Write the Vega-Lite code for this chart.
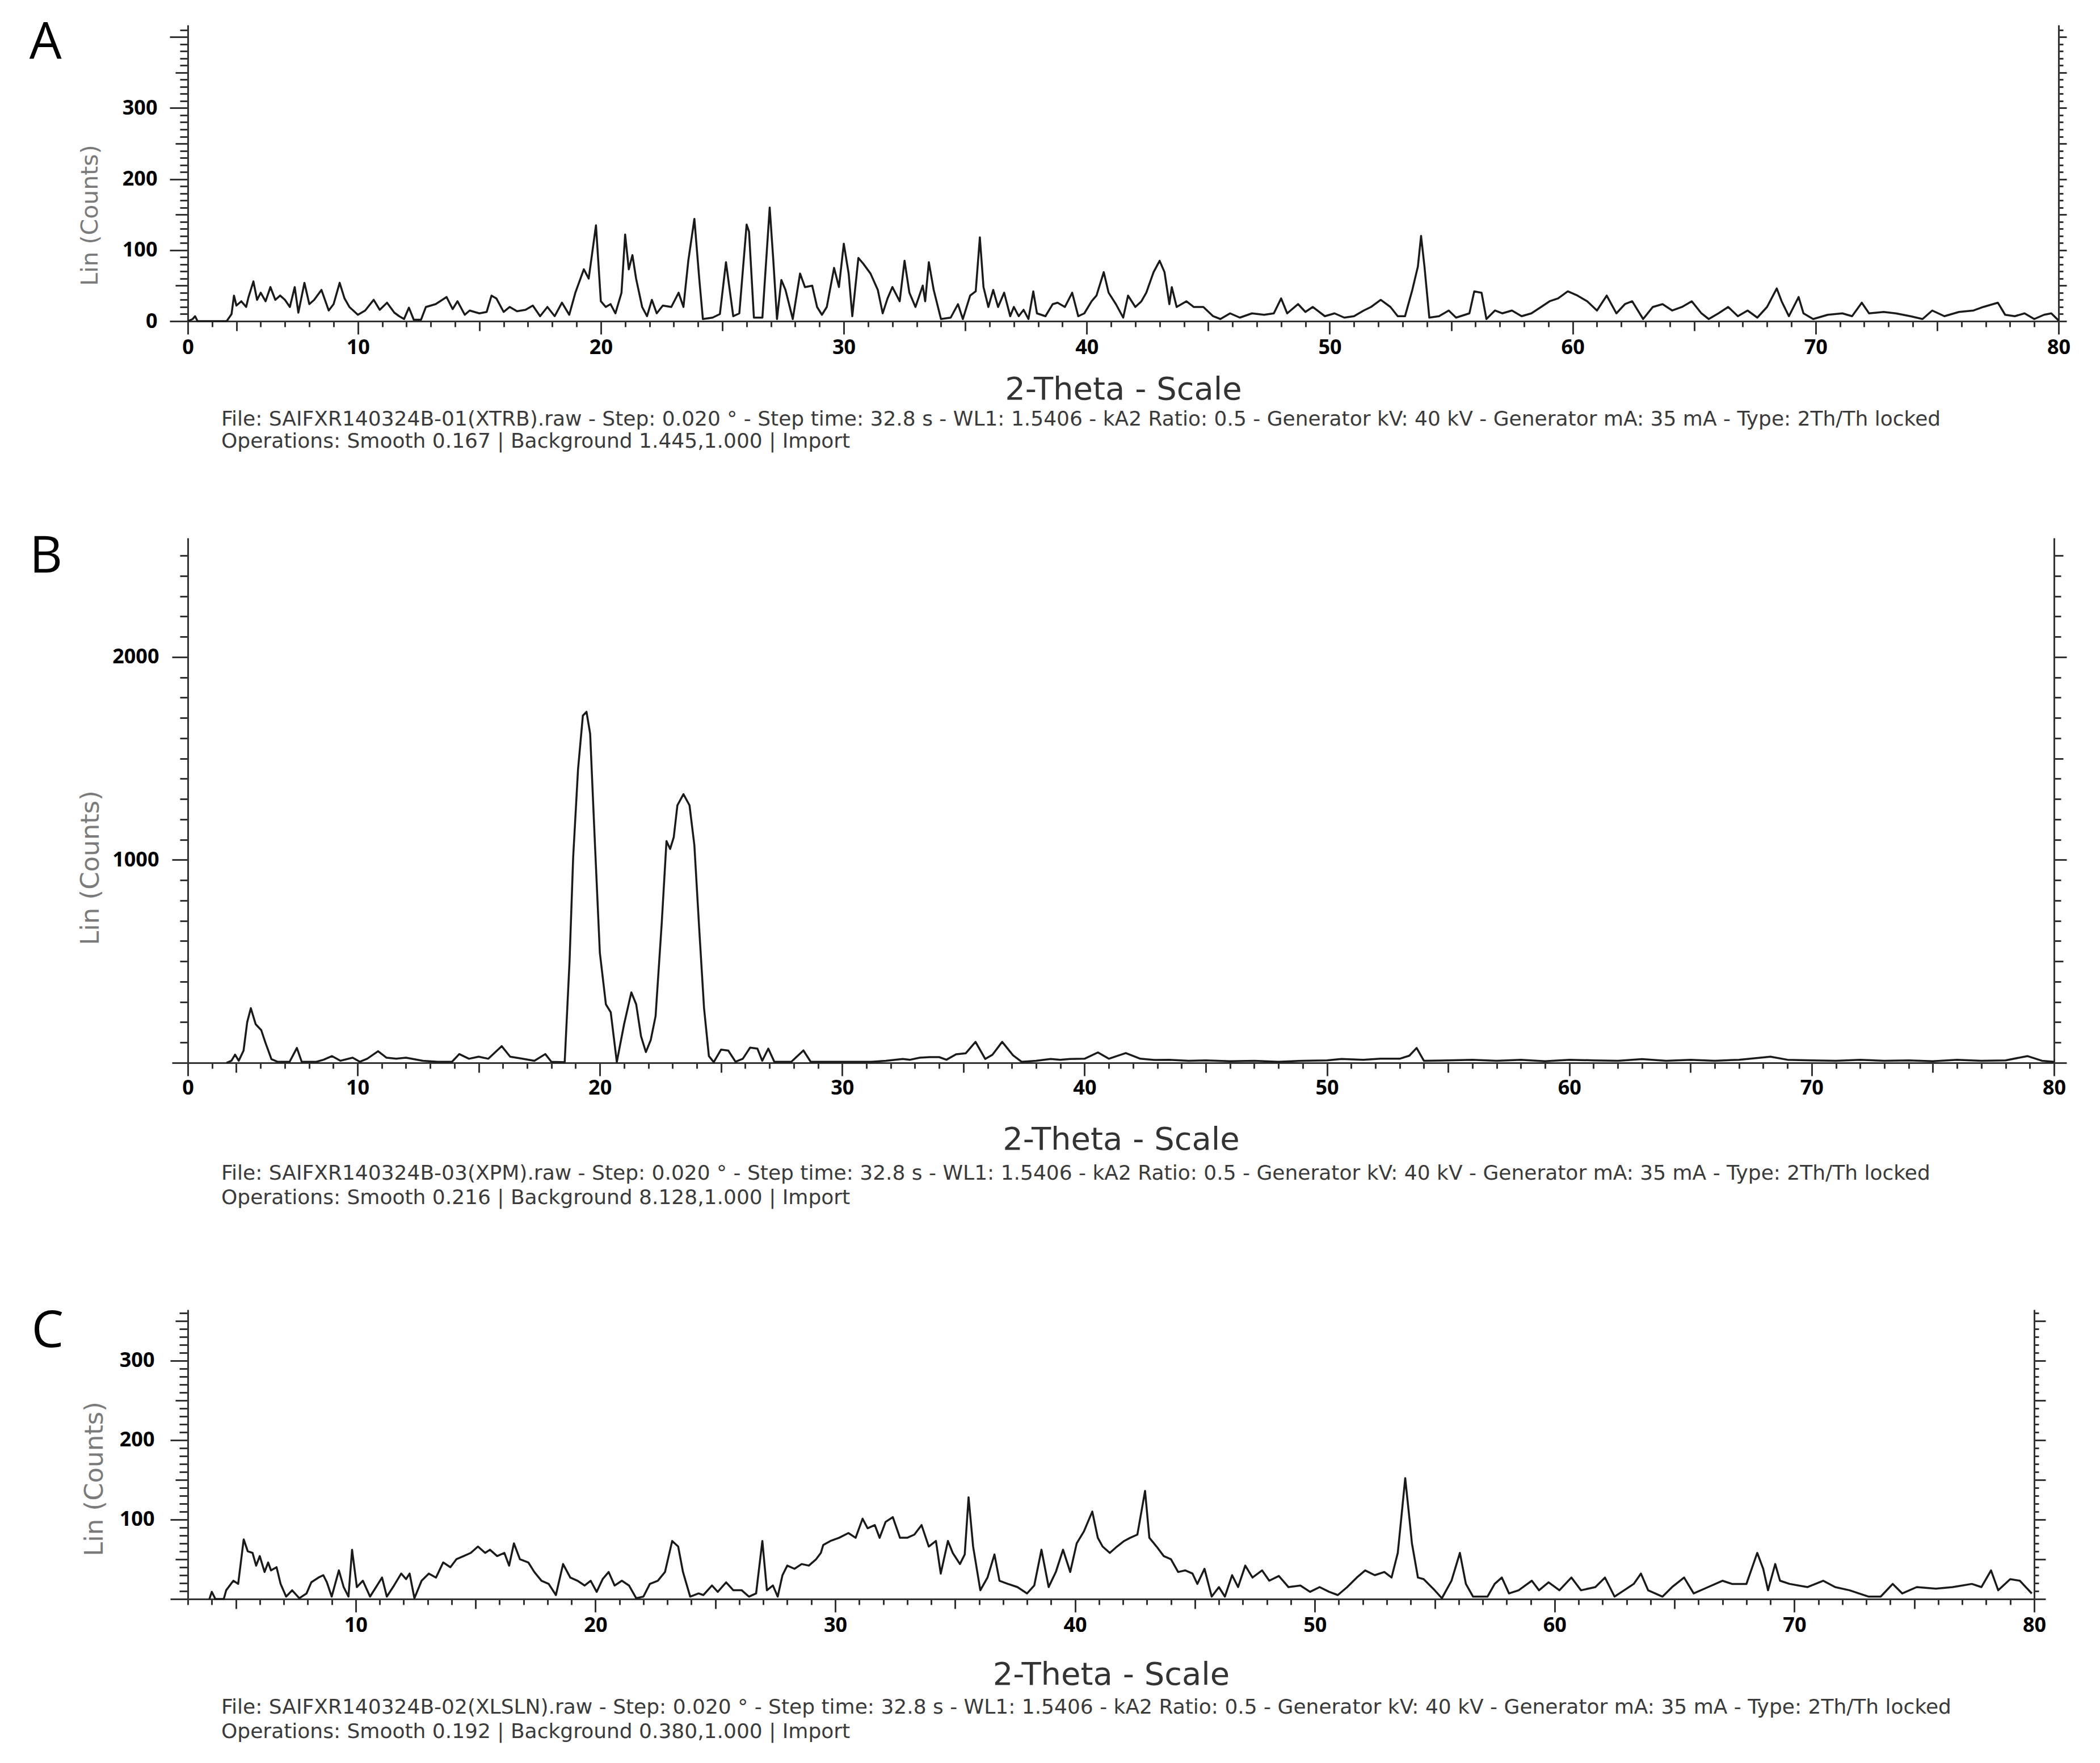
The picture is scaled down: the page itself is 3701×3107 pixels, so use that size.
{
"$schema": "https://vega.github.io/schema/vega-lite/v6.json",
"background": "white",
"padding": {"left": 51, "top": 30, "right": 5, "bottom": 5},
"config": {"view": {"stroke": null}},
"datasets": {
"A": [
{"t":3.0,"c":0},{"t":3.2,"c":3},{"t":3.3,"c":7},{"t":3.4,"c":0},{"t":4.6,"c":0},{"t":4.8,"c":10},{"t":4.9,"c":36},{"t":5.0,"c":22},{"t":5.2,"c":28},{"t":5.4,"c":20},{"t":5.5,"c":34},{"t":5.7,"c":56},{"t":5.85,"c":30},{"t":6.0,"c":40},{"t":6.2,"c":28},{"t":6.4,"c":48},{"t":6.6,"c":30},{"t":6.8,"c":36},{"t":7.0,"c":30},{"t":7.2,"c":20},{"t":7.4,"c":48},{"t":7.55,"c":12},{"t":7.8,"c":54},{"t":8.0,"c":24},{"t":8.2,"c":30},{"t":8.5,"c":44},{"t":8.8,"c":15},{"t":9.0,"c":24},{"t":9.25,"c":54},{"t":9.45,"c":32},{"t":9.65,"c":20},{"t":10.0,"c":9},{"t":10.3,"c":15},{"t":10.65,"c":30},{"t":10.9,"c":16},{"t":11.2,"c":26},{"t":11.5,"c":12},{"t":11.7,"c":7},{"t":11.9,"c":3},{"t":12.1,"c":19},{"t":12.3,"c":2},{"t":12.6,"c":2},{"t":12.8,"c":20},{"t":13.2,"c":24},{"t":13.65,"c":34},{"t":13.9,"c":17},{"t":14.1,"c":28},{"t":14.4,"c":9},{"t":14.6,"c":15},{"t":15.0,"c":11},{"t":15.3,"c":13},{"t":15.5,"c":36},{"t":15.7,"c":32},{"t":16.0,"c":13},{"t":16.25,"c":20},{"t":16.55,"c":14},{"t":16.9,"c":16},{"t":17.2,"c":22},{"t":17.5,"c":7},{"t":17.8,"c":20},{"t":18.1,"c":7},{"t":18.4,"c":26},{"t":18.7,"c":9},{"t":18.95,"c":40},{"t":19.3,"c":73},{"t":19.5,"c":60},{"t":19.8,"c":135},{"t":20.0,"c":28},{"t":20.2,"c":20},{"t":20.4,"c":24},{"t":20.6,"c":11},{"t":20.85,"c":40},{"t":21.0,"c":122},{"t":21.15,"c":73},{"t":21.3,"c":93},{"t":21.45,"c":60},{"t":21.7,"c":20},{"t":21.9,"c":7},{"t":22.1,"c":30},{"t":22.3,"c":11},{"t":22.55,"c":22},{"t":22.9,"c":20},{"t":23.2,"c":40},{"t":23.4,"c":20},{"t":23.6,"c":85},{"t":23.85,"c":144},{"t":24.05,"c":60},{"t":24.2,"c":3},{"t":24.6,"c":5},{"t":24.9,"c":10},{"t":25.15,"c":83},{"t":25.45,"c":7},{"t":25.7,"c":11},{"t":26.0,"c":136},{"t":26.1,"c":126},{"t":26.3,"c":5},{"t":26.65,"c":5},{"t":26.95,"c":160},{"t":27.1,"c":85},{"t":27.25,"c":3},{"t":27.43,"c":58},{"t":27.6,"c":44},{"t":27.9,"c":3},{"t":28.2,"c":67},{"t":28.4,"c":48},{"t":28.7,"c":50},{"t":28.9,"c":20},{"t":29.1,"c":9},{"t":29.3,"c":20},{"t":29.6,"c":75},{"t":29.8,"c":48},{"t":30.0,"c":109},{"t":30.2,"c":67},{"t":30.35,"c":7},{"t":30.6,"c":89},{"t":30.8,"c":81},{"t":31.1,"c":67},{"t":31.4,"c":44},{"t":31.6,"c":11},{"t":31.8,"c":32},{"t":32.0,"c":48},{"t":32.3,"c":28},{"t":32.5,"c":85},{"t":32.7,"c":40},{"t":32.95,"c":20},{"t":33.25,"c":50},{"t":33.35,"c":28},{"t":33.5,"c":83},{"t":33.7,"c":44},{"t":34.0,"c":3},{"t":34.4,"c":5},{"t":34.7,"c":24},{"t":34.9,"c":3},{"t":35.2,"c":36},{"t":35.43,"c":42},{"t":35.6,"c":118},{"t":35.75,"c":48},{"t":35.95,"c":20},{"t":36.15,"c":44},{"t":36.35,"c":20},{"t":36.6,"c":40},{"t":36.85,"c":7},{"t":37.0,"c":20},{"t":37.2,"c":7},{"t":37.4,"c":16},{"t":37.6,"c":3},{"t":37.8,"c":42},{"t":37.95,"c":11},{"t":38.3,"c":7},{"t":38.6,"c":24},{"t":38.8,"c":26},{"t":39.1,"c":20},{"t":39.4,"c":40},{"t":39.65,"c":7},{"t":39.9,"c":11},{"t":40.2,"c":28},{"t":40.4,"c":36},{"t":40.7,"c":69},{"t":40.9,"c":40},{"t":41.2,"c":24},{"t":41.5,"c":5},{"t":41.7,"c":36},{"t":42.0,"c":20},{"t":42.25,"c":28},{"t":42.45,"c":40},{"t":42.75,"c":69},{"t":43.0,"c":85},{"t":43.2,"c":69},{"t":43.4,"c":24},{"t":43.5,"c":48},{"t":43.7,"c":20},{"t":44.1,"c":28},{"t":44.4,"c":20},{"t":44.8,"c":20},{"t":45.2,"c":7},{"t":45.5,"c":3},{"t":45.9,"c":11},{"t":46.3,"c":5},{"t":46.8,"c":11},{"t":47.3,"c":9},{"t":47.7,"c":11},{"t":48.0,"c":32},{"t":48.25,"c":11},{"t":48.7,"c":24},{"t":49.0,"c":13},{"t":49.3,"c":20},{"t":49.8,"c":7},{"t":50.2,"c":11},{"t":50.6,"c":5},{"t":51.0,"c":7},{"t":51.4,"c":15},{"t":51.7,"c":20},{"t":52.1,"c":30},{"t":52.5,"c":20},{"t":52.8,"c":7},{"t":53.1,"c":7},{"t":53.4,"c":44},{"t":53.63,"c":77},{"t":53.76,"c":120},{"t":53.9,"c":77},{"t":54.1,"c":5},{"t":54.5,"c":7},{"t":54.9,"c":15},{"t":55.2,"c":5},{"t":55.75,"c":11},{"t":55.95,"c":42},{"t":56.25,"c":40},{"t":56.45,"c":3},{"t":56.8,"c":15},{"t":57.1,"c":11},{"t":57.5,"c":15},{"t":57.9,"c":7},{"t":58.3,"c":11},{"t":58.7,"c":20},{"t":59.05,"c":28},{"t":59.4,"c":32},{"t":59.8,"c":42},{"t":60.2,"c":36},{"t":60.6,"c":28},{"t":61.0,"c":15},{"t":61.4,"c":36},{"t":61.8,"c":11},{"t":62.15,"c":24},{"t":62.45,"c":28},{"t":62.9,"c":3},{"t":63.3,"c":20},{"t":63.7,"c":24},{"t":64.1,"c":15},{"t":64.5,"c":20},{"t":64.9,"c":28},{"t":65.3,"c":11},{"t":65.6,"c":3},{"t":66.0,"c":11},{"t":66.4,"c":20},{"t":66.8,"c":7},{"t":67.2,"c":15},{"t":67.6,"c":5},{"t":68.0,"c":20},{"t":68.4,"c":46},{"t":68.6,"c":28},{"t":68.9,"c":7},{"t":69.3,"c":34},{"t":69.5,"c":11},{"t":69.9,"c":3},{"t":70.5,"c":9},{"t":71.1,"c":11},{"t":71.5,"c":7},{"t":71.9,"c":26},{"t":72.2,"c":11},{"t":72.8,"c":13},{"t":73.3,"c":11},{"t":73.9,"c":7},{"t":74.4,"c":3},{"t":74.8,"c":15},{"t":75.3,"c":7},{"t":75.9,"c":13},{"t":76.5,"c":15},{"t":76.9,"c":20},{"t":77.5,"c":26},{"t":77.8,"c":9},{"t":78.2,"c":7},{"t":78.6,"c":11},{"t":79.0,"c":3},{"t":79.4,"c":9},{"t":79.7,"c":11},{"t":80.0,"c":1}
],
"B": [
{"t":4.6,"c":0},{"t":4.8,"c":10},{"t":4.95,"c":40},{"t":5.1,"c":10},{"t":5.3,"c":60},{"t":5.45,"c":200},{"t":5.6,"c":269},{"t":5.8,"c":190},{"t":6.03,"c":161},{"t":6.2,"c":100},{"t":6.45,"c":18},{"t":6.7,"c":5},{"t":7.2,"c":5},{"t":7.5,"c":73},{"t":7.7,"c":5},{"t":8.3,"c":5},{"t":8.6,"c":15},{"t":8.95,"c":33},{"t":9.3,"c":10},{"t":9.8,"c":25},{"t":10.1,"c":5},{"t":10.4,"c":20},{"t":10.85,"c":57},{"t":11.2,"c":25},{"t":11.6,"c":20},{"t":12.0,"c":25},{"t":12.7,"c":10},{"t":13.3,"c":5},{"t":13.9,"c":5},{"t":14.2,"c":43},{"t":14.6,"c":20},{"t":15.0,"c":30},{"t":15.4,"c":20},{"t":15.95,"c":82},{"t":16.3,"c":30},{"t":16.8,"c":20},{"t":17.3,"c":10},{"t":17.75,"c":43},{"t":18.0,"c":5},{"t":18.55,"c":3},{"t":18.75,"c":500},{"t":18.9,"c":1014},{"t":19.1,"c":1446},{"t":19.3,"c":1711},{"t":19.45,"c":1730},{"t":19.6,"c":1622},{"t":19.8,"c":1073},{"t":20.0,"c":543},{"t":20.25,"c":288},{"t":20.45,"c":249},{"t":20.7,"c":4},{"t":21.0,"c":190},{"t":21.3,"c":347},{"t":21.5,"c":288},{"t":21.7,"c":131},{"t":21.9,"c":53},{"t":22.1,"c":112},{"t":22.3,"c":230},{"t":22.55,"c":681},{"t":22.75,"c":1093},{"t":22.9,"c":1054},{"t":23.05,"c":1112},{"t":23.2,"c":1269},{"t":23.45,"c":1324},{"t":23.7,"c":1269},{"t":23.9,"c":1073},{"t":24.1,"c":661},{"t":24.3,"c":269},{"t":24.5,"c":33},{"t":24.7,"c":3},{"t":25.0,"c":65},{"t":25.3,"c":60},{"t":25.6,"c":5},{"t":25.9,"c":20},{"t":26.2,"c":75},{"t":26.5,"c":70},{"t":26.7,"c":10},{"t":26.95,"c":70},{"t":27.2,"c":5},{"t":27.9,"c":5},{"t":28.4,"c":61},{"t":28.7,"c":5},{"t":29.5,"c":5},{"t":30.5,"c":5},{"t":31.2,"c":5},{"t":31.8,"c":10},{"t":32.5,"c":19},{"t":32.8,"c":15},{"t":33.2,"c":25},{"t":33.6,"c":28},{"t":34.0,"c":28},{"t":34.3,"c":15},{"t":34.7,"c":42},{"t":35.1,"c":47},{"t":35.5,"c":103},{"t":35.9,"c":19},{"t":36.2,"c":40},{"t":36.6,"c":103},{"t":37.05,"c":37},{"t":37.4,"c":5},{"t":38.0,"c":10},{"t":38.6,"c":19},{"t":39.0,"c":15},{"t":39.4,"c":19},{"t":40.0,"c":20},{"t":40.55,"c":51},{"t":41.0,"c":20},{"t":41.7,"c":48},{"t":42.3,"c":20},{"t":42.9,"c":14},{"t":43.5,"c":15},{"t":44.3,"c":10},{"t":45.0,"c":12},{"t":46.0,"c":8},{"t":47.0,"c":10},{"t":48.0,"c":5},{"t":49.0,"c":10},{"t":50.0,"c":12},{"t":50.6,"c":19},{"t":51.5,"c":15},{"t":52.2,"c":20},{"t":53.0,"c":20},{"t":53.4,"c":35},{"t":53.7,"c":73},{"t":54.0,"c":10},{"t":55.0,"c":12},{"t":56.0,"c":15},{"t":57.0,"c":10},{"t":58.0,"c":15},{"t":59.0,"c":8},{"t":60.0,"c":15},{"t":61.0,"c":12},{"t":62.0,"c":10},{"t":63.0,"c":18},{"t":64.0,"c":10},{"t":65.0,"c":15},{"t":66.0,"c":10},{"t":67.0,"c":15},{"t":68.3,"c":30},{"t":69.0,"c":15},{"t":70.0,"c":12},{"t":71.0,"c":10},{"t":72.0,"c":15},{"t":73.0,"c":10},{"t":74.0,"c":12},{"t":75.0,"c":8},{"t":76.0,"c":15},{"t":77.0,"c":10},{"t":78.0,"c":12},{"t":78.9,"c":33},{"t":79.5,"c":10},{"t":80.0,"c":5}
],
"C": [
{"t":3.9,"c":0},{"t":4.0,"c":9},{"t":4.15,"c":0},{"t":4.5,"c":0},{"t":4.6,"c":11},{"t":4.9,"c":23},{"t":5.1,"c":19},{"t":5.33,"c":75},{"t":5.5,"c":60},{"t":5.7,"c":58},{"t":5.85,"c":42},{"t":6.0,"c":54},{"t":6.2,"c":34},{"t":6.35,"c":46},{"t":6.47,"c":36},{"t":6.7,"c":40},{"t":6.87,"c":19},{"t":7.1,"c":3},{"t":7.35,"c":11},{"t":7.65,"c":1},{"t":7.95,"c":7},{"t":8.15,"c":21},{"t":8.45,"c":27},{"t":8.65,"c":30},{"t":8.8,"c":21},{"t":9.0,"c":3},{"t":9.3,"c":36},{"t":9.5,"c":15},{"t":9.7,"c":3},{"t":9.85,"c":62},{"t":10.05,"c":15},{"t":10.3,"c":23},{"t":10.6,"c":3},{"t":10.85,"c":15},{"t":11.1,"c":27},{"t":11.3,"c":3},{"t":11.6,"c":17},{"t":11.9,"c":32},{"t":12.1,"c":25},{"t":12.25,"c":32},{"t":12.45,"c":1},{"t":12.75,"c":23},{"t":13.05,"c":32},{"t":13.35,"c":27},{"t":13.65,"c":46},{"t":13.95,"c":40},{"t":14.2,"c":50},{"t":14.5,"c":54},{"t":14.8,"c":58},{"t":15.1,"c":66},{"t":15.4,"c":58},{"t":15.6,"c":62},{"t":15.9,"c":54},{"t":16.2,"c":58},{"t":16.4,"c":42},{"t":16.6,"c":70},{"t":16.85,"c":50},{"t":17.2,"c":46},{"t":17.45,"c":34},{"t":17.75,"c":23},{"t":18.05,"c":19},{"t":18.35,"c":5},{"t":18.65,"c":44},{"t":18.95,"c":27},{"t":19.25,"c":23},{"t":19.55,"c":17},{"t":19.8,"c":23},{"t":20.05,"c":9},{"t":20.3,"c":25},{"t":20.55,"c":34},{"t":20.8,"c":17},{"t":21.1,"c":23},{"t":21.4,"c":17},{"t":21.7,"c":1},{"t":22.0,"c":3},{"t":22.27,"c":19},{"t":22.6,"c":23},{"t":22.9,"c":34},{"t":23.2,"c":73},{"t":23.45,"c":66},{"t":23.65,"c":34},{"t":23.95,"c":3},{"t":24.3,"c":7},{"t":24.5,"c":5},{"t":24.86,"c":17},{"t":25.1,"c":9},{"t":25.45,"c":21},{"t":25.75,"c":11},{"t":26.1,"c":11},{"t":26.4,"c":3},{"t":26.7,"c":7},{"t":26.96,"c":73},{"t":27.15,"c":11},{"t":27.4,"c":17},{"t":27.6,"c":3},{"t":27.8,"c":30},{"t":28.0,"c":42},{"t":28.3,"c":38},{"t":28.6,"c":44},{"t":28.9,"c":42},{"t":29.2,"c":50},{"t":29.4,"c":58},{"t":29.5,"c":68},{"t":29.8,"c":73},{"t":30.16,"c":77},{"t":30.55,"c":83},{"t":30.85,"c":77},{"t":31.14,"c":101},{"t":31.35,"c":89},{"t":31.65,"c":93},{"t":31.85,"c":77},{"t":32.1,"c":97},{"t":32.4,"c":103},{"t":32.7,"c":77},{"t":33.0,"c":77},{"t":33.3,"c":81},{"t":33.6,"c":93},{"t":33.9,"c":66},{"t":34.2,"c":73},{"t":34.4,"c":32},{"t":34.7,"c":73},{"t":34.9,"c":58},{"t":35.2,"c":44},{"t":35.4,"c":56},{"t":35.56,"c":128},{"t":35.75,"c":66},{"t":36.05,"c":11},{"t":36.35,"c":27},{"t":36.64,"c":56},{"t":36.85,"c":23},{"t":37.2,"c":19},{"t":37.6,"c":15},{"t":38.0,"c":7},{"t":38.3,"c":17},{"t":38.6,"c":62},{"t":38.9,"c":15},{"t":39.2,"c":34},{"t":39.5,"c":62},{"t":39.8,"c":34},{"t":40.07,"c":70},{"t":40.37,"c":85},{"t":40.72,"c":110},{"t":40.95,"c":77},{"t":41.15,"c":66},{"t":41.45,"c":58},{"t":41.75,"c":66},{"t":42.05,"c":73},{"t":42.3,"c":77},{"t":42.6,"c":81},{"t":42.92,"c":136},{"t":43.1,"c":77},{"t":43.4,"c":66},{"t":43.7,"c":54},{"t":44.0,"c":50},{"t":44.3,"c":34},{"t":44.6,"c":36},{"t":44.9,"c":32},{"t":45.1,"c":19},{"t":45.4,"c":38},{"t":45.7,"c":3},{"t":46.0,"c":15},{"t":46.25,"c":3},{"t":46.55,"c":30},{"t":46.8,"c":15},{"t":47.1,"c":42},{"t":47.4,"c":27},{"t":47.8,"c":36},{"t":48.1,"c":23},{"t":48.5,"c":29},{"t":48.9,"c":15},{"t":49.4,"c":17},{"t":49.8,"c":9},{"t":50.2,"c":15},{"t":50.6,"c":9},{"t":50.96,"c":5},{"t":51.35,"c":15},{"t":51.75,"c":27},{"t":52.1,"c":36},{"t":52.5,"c":30},{"t":52.9,"c":34},{"t":53.2,"c":27},{"t":53.46,"c":58},{"t":53.6,"c":100},{"t":53.77,"c":152},{"t":53.95,"c":100},{"t":54.05,"c":70},{"t":54.3,"c":27},{"t":54.54,"c":25},{"t":55.0,"c":11},{"t":55.3,"c":1},{"t":55.7,"c":23},{"t":56.05,"c":58},{"t":56.3,"c":19},{"t":56.6,"c":3},{"t":57.2,"c":3},{"t":57.5,"c":19},{"t":57.8,"c":27},{"t":58.1,"c":7},{"t":58.5,"c":11},{"t":59.05,"c":23},{"t":59.35,"c":11},{"t":59.75,"c":21},{"t":60.2,"c":11},{"t":60.7,"c":27},{"t":61.1,"c":11},{"t":61.7,"c":15},{"t":62.1,"c":27},{"t":62.5,"c":3},{"t":62.9,"c":11},{"t":63.3,"c":19},{"t":63.6,"c":32},{"t":63.9,"c":11},{"t":64.5,"c":3},{"t":64.9,"c":15},{"t":65.4,"c":27},{"t":65.8,"c":7},{"t":66.4,"c":15},{"t":67.0,"c":23},{"t":67.4,"c":19},{"t":68.0,"c":19},{"t":68.45,"c":58},{"t":68.7,"c":38},{"t":68.9,"c":11},{"t":69.2,"c":44},{"t":69.4,"c":23},{"t":69.8,"c":19},{"t":70.55,"c":15},{"t":71.2,"c":23},{"t":71.7,"c":15},{"t":72.3,"c":11},{"t":73.1,"c":3},{"t":73.6,"c":3},{"t":74.1,"c":19},{"t":74.5,"c":7},{"t":75.1,"c":15},{"t":75.9,"c":13},{"t":76.6,"c":15},{"t":77.4,"c":19},{"t":77.8,"c":15},{"t":78.2,"c":36},{"t":78.5,"c":11},{"t":79.0,"c":25},{"t":79.4,"c":23},{"t":79.9,"c":7}
]
},
"spacing": 140,
"bounds": "full",
"vconcat": [
{
"width": 3297, "height": 522,
"title": {"text": "File: SAIFXR140324B-01(XTRB).raw - Step: 0.020 ° - Step time: 32.8 s - WL1: 1.5406 - kA2 Ratio: 0.5 - Generator kV: 40 kV - Generator mA: 35 mA - Type: 2Th/Th locked", "subtitle": "Operations: Smooth 0.167 | Background 1.445,1.000 | Import", "orient": "bottom", "anchor": "start", "frame": "group", "dx": 59, "offset": 8, "font": "DejaVu Sans", "fontSize": 36, "fontWeight": "normal", "color": "#3a3a3a", "subtitleFont": "DejaVu Sans", "subtitleFontSize": 36, "subtitleColor": "#3a3a3a", "subtitlePadding": 3},
"resolve": {"axis": {"y": "independent"}},
"layer": [
{"data": {"name": "A"}, "mark": {"type": "line", "color": "#1a1a1a", "strokeWidth": 3.5, "strokeJoin": "round"},
"encoding": {
"x": {"field": "t", "type": "quantitative", "scale": {"domain": [3, 80], "nice": false, "zero": false},
"axis": {"values": [3,4,5,6,7,8,9,10,11,12,13,14,15,16,17,18,19,20,21,22,23,24,25,26,27,28,29,30,31,32,33,34,35,36,37,38,39,40,41,42,43,44,45,46,47,48,49,50,51,52,53,54,55,56,57,58,59,60,61,62,63,64,65,66,67,68,69,70,71,72,73,74,75,76,77,78,79,80],
"labelExpr": "datum.value == 3 ? '0' : (datum.value % 10 == 0 ? datum.label : '')",
"format": "d",
"tickSize": {"condition": [{"test": "datum.value % 10 == 0 || datum.value == 3", "value": 23}, {"test": "datum.value % 5 == 0", "value": 17}], "value": 10},
"tickWidth": 3, "tickColor": "#333333", "domainColor": "#333333", "domainWidth": 3, "grid": false,
"labelFont": "Open Sans", "labelFontWeight": "bold", "labelFontSize": 36, "labelColor": "#000000", "labelPadding": 6, "labelFlush": false, "labelOverlap": false, "labelAngle": 0,
"title": "2-Theta - Scale", "titleFont": "DejaVu Sans", "titleFontSize": 56, "titleFontWeight": "normal", "titleColor": "#333333", "titlePadding": 29}},
"y": {"field": "c", "type": "quantitative", "scale": {"domain": [0, 417], "nice": false},
"axis": {"values": [0,10,20,30,40,50,60,70,80,90,100,110,120,130,140,150,160,170,180,190,200,210,220,230,240,250,260,270,280,290,300,310,320,330,340,350,360,370,380,390,400,410],
"labelExpr": "datum.value % 100 == 0 && datum.value <= 300 ? datum.label : ''", "format": "d",
"tickSize": {"condition": [{"test": "datum.value % 100 == 0", "value": 32}, {"test": "datum.value % 50 == 0", "value": 22}], "value": 14},
"tickWidth": 3, "tickColor": "#333333", "domainColor": "#333333", "domainWidth": 3, "grid": false,
"labelFont": "Open Sans", "labelFontWeight": "bold", "labelFontSize": 36, "labelColor": "#000000", "labelPadding": 22, "labelFlush": false, "labelOverlap": false,
"title": "Lin (Counts)", "titleFont": "DejaVu Sans", "titleFontSize": 41, "titleFontWeight": "normal", "titleColor": "#7a7a7a", "titleX": -172, "titleY": 335, "titleAngle": 270, "titleAlign": "center", "titleBaseline": "middle"}}
}},
{"data": {"name": "A"}, "mark": {"type": "line", "strokeOpacity": 0},
"encoding": {
"x": {"field": "t", "type": "quantitative", "scale": {"domain": [3, 80], "nice": false, "zero": false}},
"y": {"field": "c", "type": "quantitative", "scale": {"domain": [0, 417], "nice": false},
"axis": {"orient": "right", "values": [0,10,20,30,40,50,60,70,80,90,100,110,120,130,140,150,160,170,180,190,200,210,220,230,240,250,260,270,280,290,300,310,320,330,340,350,360,370,380,390,400,410],
"labels": false, "title": null, "grid": false,
"tickSize": {"condition": {"test": "datum.value % 50 == 0", "value": 14}, "value": 8},
"tickWidth": 3, "tickColor": "#333333", "domainColor": "#333333", "domainWidth": 3}}
}},
{"data": {"values": [{}]}, "mark": {"type": "text", "font": "Open Sans", "fontSize": 90, "fontWeight": "normal", "align": "left", "baseline": "middle", "color": "#000000"},
"encoding": {
"x": {"datum": -3.52, "type": "quantitative", "scale": {"domain": [3, 80], "nice": false, "zero": false}},
"y": {"datum": 391.6, "type": "quantitative", "scale": {"domain": [0, 417], "nice": false}, "axis": null},
"text": {"value": "A"}}}
]
},
{
"spacing": 166,
"bounds": "full",
"vconcat": [
{
"width": 3289, "height": 925,
"title": {"text": "File: SAIFXR140324B-03(XPM).raw - Step: 0.020 ° - Step time: 32.8 s - WL1: 1.5406 - kA2 Ratio: 0.5 - Generator kV: 40 kV - Generator mA: 35 mA - Type: 2Th/Th locked", "subtitle": "Operations: Smooth 0.216 | Background 8.128,1.000 | Import", "orient": "bottom", "anchor": "start", "frame": "group", "dx": 59, "offset": 15, "font": "DejaVu Sans", "fontSize": 36, "fontWeight": "normal", "color": "#3a3a3a", "subtitleFont": "DejaVu Sans", "subtitleFontSize": 36, "subtitleColor": "#3a3a3a", "subtitlePadding": 7},
"resolve": {"axis": {"y": "independent"}},
"layer": [
{"data": {"name": "B"}, "mark": {"type": "line", "color": "#1a1a1a", "strokeWidth": 3.5, "strokeJoin": "round"},
"encoding": {
"x": {"field": "t", "type": "quantitative", "scale": {"domain": [3, 80], "nice": false, "zero": false},
"axis": {"values": [3,4,5,6,7,8,9,10,11,12,13,14,15,16,17,18,19,20,21,22,23,24,25,26,27,28,29,30,31,32,33,34,35,36,37,38,39,40,41,42,43,44,45,46,47,48,49,50,51,52,53,54,55,56,57,58,59,60,61,62,63,64,65,66,67,68,69,70,71,72,73,74,75,76,77,78,79,80],
"labelExpr": "datum.value == 3 ? '0' : (datum.value % 10 == 0 ? datum.label : '')",
"format": "d",
"tickSize": {"condition": [{"test": "datum.value % 10 == 0 || datum.value == 3", "value": 23}, {"test": "datum.value % 5 == 0", "value": 17}], "value": 10},
"tickWidth": 3, "tickColor": "#333333", "domainColor": "#333333", "domainWidth": 3, "grid": false,
"labelFont": "Open Sans", "labelFontWeight": "bold", "labelFontSize": 36, "labelColor": "#000000", "labelPadding": 4, "labelFlush": false, "labelOverlap": false, "labelAngle": 0,
"title": "2-Theta - Scale", "titleFont": "DejaVu Sans", "titleFontSize": 56, "titleFontWeight": "normal", "titleColor": "#333333", "titlePadding": 46}},
"y": {"field": "c", "type": "quantitative", "scale": {"domain": [0, 2587], "nice": false},
"axis": {"values": [0,100,200,300,400,500,600,700,800,900,1000,1100,1200,1300,1400,1500,1600,1700,1800,1900,2000,2100,2200,2300,2400,2500],
"labelExpr": "datum.value % 1000 == 0 && datum.value > 0 ? datum.label : ''", "format": "d",
"tickSize": {"condition": {"test": "datum.value % 1000 == 0", "value": 28}, "value": 14},
"tickWidth": 3, "tickColor": "#333333", "domainColor": "#333333", "domainWidth": 3, "grid": false,
"labelFont": "Open Sans", "labelFontWeight": "bold", "labelFontSize": 36, "labelColor": "#000000", "labelPadding": 23, "labelFlush": false, "labelOverlap": false,
"title": "Lin (Counts)", "titleFont": "DejaVu Sans", "titleFontSize": 45, "titleFontWeight": "normal", "titleColor": "#7a7a7a", "titleX": -172, "titleY": 581, "titleAngle": 270, "titleAlign": "center", "titleBaseline": "middle"}}
}},
{"data": {"name": "B"}, "mark": {"type": "line", "strokeOpacity": 0},
"encoding": {
"x": {"field": "t", "type": "quantitative", "scale": {"domain": [3, 80], "nice": false, "zero": false}},
"y": {"field": "c", "type": "quantitative", "scale": {"domain": [0, 2587], "nice": false},
"axis": {"orient": "right", "values": [0,100,200,300,400,500,600,700,800,900,1000,1100,1200,1300,1400,1500,1600,1700,1800,1900,2000,2100,2200,2300,2400,2500],
"labels": false, "title": null, "grid": false,
"tickSize": {"condition": [{"test": "datum.value % 1000 == 0", "value": 22}, {"test": "datum.value % 500 == 0", "value": 16}], "value": 12},
"tickWidth": 3, "tickColor": "#333333", "domainColor": "#333333", "domainWidth": 3}}
}},
{"data": {"values": [{}]}, "mark": {"type": "text", "font": "Open Sans", "fontSize": 90, "fontWeight": "normal", "align": "left", "baseline": "middle", "color": "#000000"},
"encoding": {
"x": {"datum": -3.53, "type": "quantitative", "scale": {"domain": [3, 80], "nice": false, "zero": false}},
"y": {"datum": 2492, "type": "quantitative", "scale": {"domain": [0, 2587], "nice": false}, "axis": null},
"text": {"value": "B"}}}
]
},
{
"width": 3254, "height": 510,
"title": {"text": "File: SAIFXR140324B-02(XLSLN).raw - Step: 0.020 ° - Step time: 32.8 s - WL1: 1.5406 - kA2 Ratio: 0.5 - Generator kV: 40 kV - Generator mA: 35 mA - Type: 2Th/Th locked", "subtitle": "Operations: Smooth 0.192 | Background 0.380,1.000 | Import", "orient": "bottom", "anchor": "start", "frame": "group", "dx": 59, "offset": 13, "font": "DejaVu Sans", "fontSize": 36, "fontWeight": "normal", "color": "#3a3a3a", "subtitleFont": "DejaVu Sans", "subtitleFontSize": 36, "subtitleColor": "#3a3a3a", "subtitlePadding": 7},
"resolve": {"axis": {"y": "independent"}},
"layer": [
{"data": {"name": "C"}, "mark": {"type": "line", "color": "#1a1a1a", "strokeWidth": 3.5, "strokeJoin": "round"},
"encoding": {
"x": {"field": "t", "type": "quantitative", "scale": {"domain": [3, 80], "nice": false, "zero": false},
"axis": {"values": [3,4,5,6,7,8,9,10,11,12,13,14,15,16,17,18,19,20,21,22,23,24,25,26,27,28,29,30,31,32,33,34,35,36,37,38,39,40,41,42,43,44,45,46,47,48,49,50,51,52,53,54,55,56,57,58,59,60,61,62,63,64,65,66,67,68,69,70,71,72,73,74,75,76,77,78,79,80],
"labelExpr": "datum.value % 10 == 0 ? datum.label : ''",
"format": "d",
"tickSize": {"condition": [{"test": "datum.value % 10 == 0", "value": 23}, {"test": "datum.value % 5 == 0", "value": 17}], "value": 10},
"tickWidth": 3, "tickColor": "#333333", "domainColor": "#333333", "domainWidth": 3, "grid": false,
"labelFont": "Open Sans", "labelFontWeight": "bold", "labelFontSize": 36, "labelColor": "#000000", "labelPadding": 6, "labelFlush": false, "labelOverlap": false, "labelAngle": 0,
"title": "2-Theta - Scale", "titleFont": "DejaVu Sans", "titleFontSize": 56, "titleFontWeight": "normal", "titleColor": "#333333", "titlePadding": 42}},
"y": {"field": "c", "type": "quantitative", "scale": {"domain": [0, 364], "nice": false},
"axis": {"values": [0,10,20,30,40,50,60,70,80,90,100,110,120,130,140,150,160,170,180,190,200,210,220,230,240,250,260,270,280,290,300,310,320,330,340,350,360],
"labelExpr": "datum.value % 100 == 0 && datum.value > 0 ? datum.label : ''", "format": "d",
"tickSize": {"condition": [{"test": "datum.value % 100 == 0", "value": 31}, {"test": "datum.value % 50 == 0", "value": 22}], "value": 15},
"tickWidth": 3, "tickColor": "#333333", "domainColor": "#333333", "domainWidth": 3, "grid": false,
"labelFont": "Open Sans", "labelFontWeight": "bold", "labelFontSize": 36, "labelColor": "#000000", "labelPadding": 28, "labelFlush": false, "labelOverlap": false,
"title": "Lin (Counts)", "titleFont": "DejaVu Sans", "titleFontSize": 45, "titleFontWeight": "normal", "titleColor": "#7a7a7a", "titleX": -165, "titleY": 298, "titleAngle": 270, "titleAlign": "center", "titleBaseline": "middle"}}
}},
{"data": {"name": "C"}, "mark": {"type": "line", "strokeOpacity": 0},
"encoding": {
"x": {"field": "t", "type": "quantitative", "scale": {"domain": [3, 80], "nice": false, "zero": false}},
"y": {"field": "c", "type": "quantitative", "scale": {"domain": [0, 364], "nice": false},
"axis": {"orient": "right", "values": [0,10,20,30,40,50,60,70,80,90,100,110,120,130,140,150,160,170,180,190,200,210,220,230,240,250,260,270,280,290,300,310,320,330,340,350,360],
"labels": false, "title": null, "grid": false,
"tickSize": {"condition": {"test": "datum.value % 50 == 0", "value": 20}, "value": 8},
"tickWidth": 3, "tickColor": "#333333", "domainColor": "#333333", "domainWidth": 3}}
}},
{"data": {"values": [{}]}, "mark": {"type": "text", "font": "Open Sans", "fontSize": 90, "fontWeight": "normal", "align": "left", "baseline": "middle", "color": "#000000"},
"encoding": {
"x": {"datum": -3.52, "type": "quantitative", "scale": {"domain": [3, 80], "nice": false, "zero": false}},
"y": {"datum": 336, "type": "quantitative", "scale": {"domain": [0, 364], "nice": false}, "axis": null},
"text": {"value": "C"}}}
]
}
]
}
]
}
